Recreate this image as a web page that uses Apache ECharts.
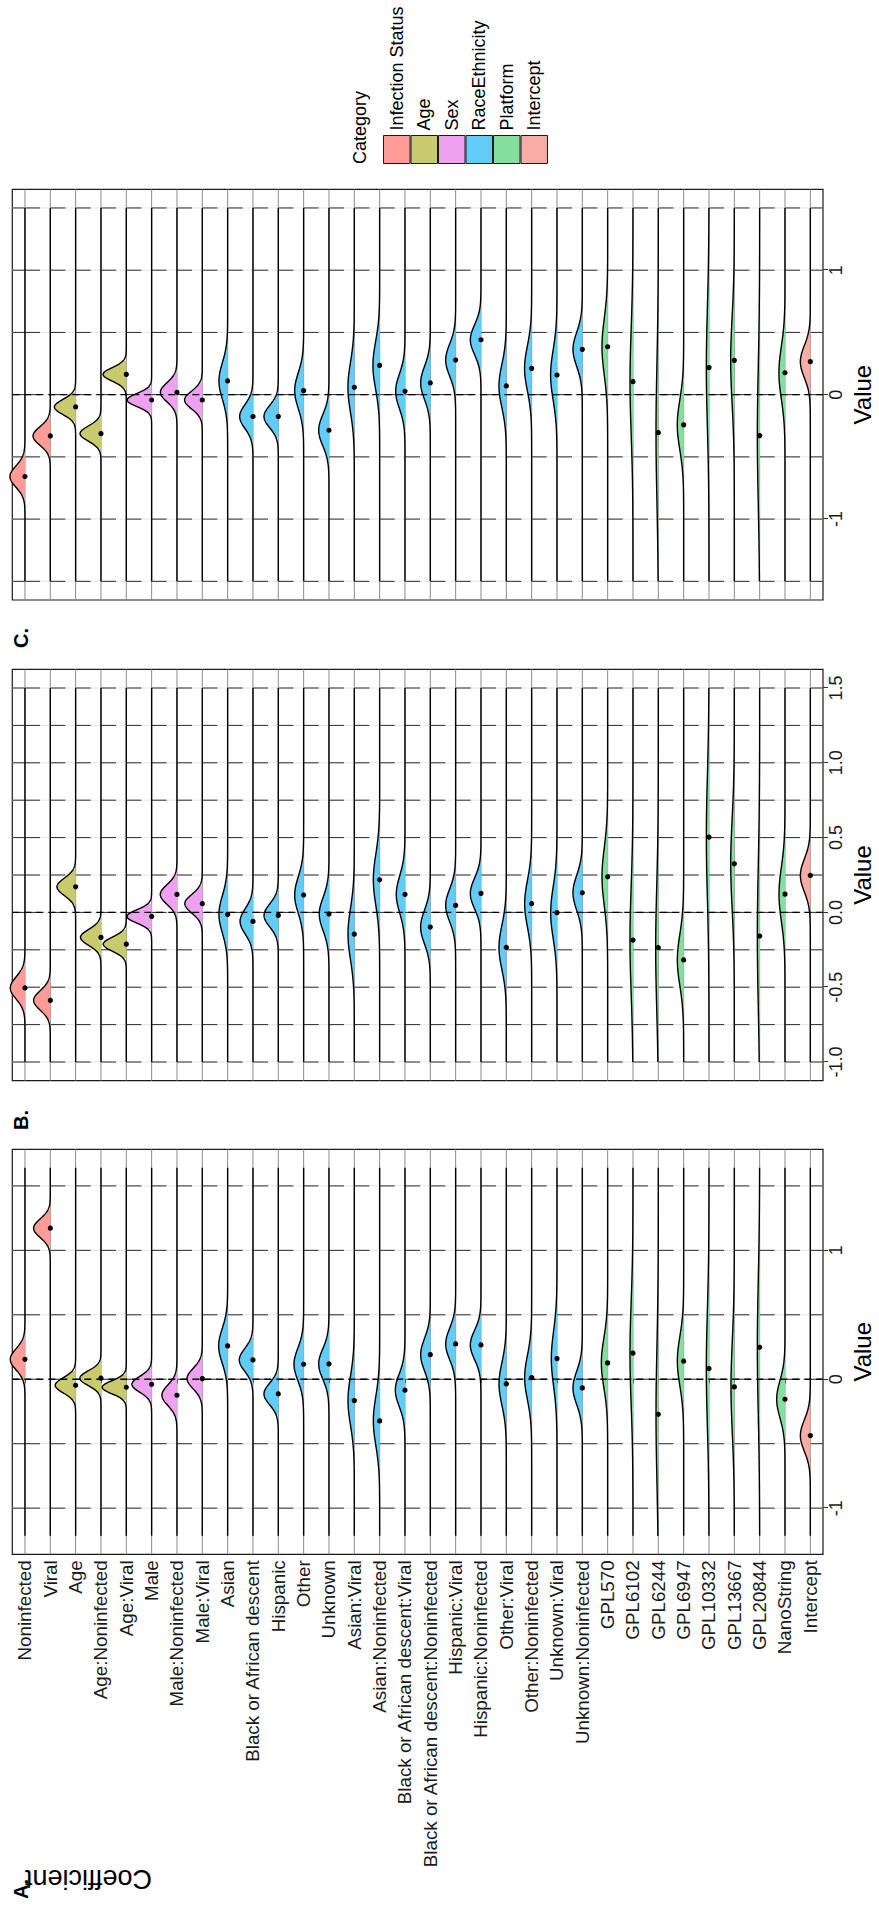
<!DOCTYPE html>
<html><head><meta charset="utf-8">
<script src="https://cdn.jsdelivr.net/npm/echarts@6/dist/echarts.min.js"></script>
<style>
html,body{margin:0;padding:0;width:879px;height:1908px;overflow:hidden;background:#fff;}
#wrap{position:absolute;left:0;top:0;width:1908px;height:879px;transform-origin:0 0;transform:translateY(1908px) rotate(-90deg);}
#chart{width:1908px;height:879px;}
</style></head><body><div id="wrap"><div id="chart"></div></div>
<script>
const coefficients = ['Noninfected','Viral','Age','Age:Noninfected','Age:Viral','Male','Male:Noninfected','Male:Viral','Asian','Black or African descent','Hispanic','Other','Unknown','Asian:Viral','Asian:Noninfected','Black or African descent:Viral','Black or African descent:Noninfected','Hispanic:Viral','Hispanic:Noninfected','Other:Viral','Other:Noninfected','Unknown:Viral','Unknown:Noninfected','GPL570','GPL6102','GPL6244','GPL6947','GPL10332','GPL13667','GPL20844','NanoString','Intercept'];
const groups = ['Infection Status','Age','Sex','RaceEthnicity','Platform','Intercept'];
const groupColors = ['#FF9C98','#C9C96E','#EEA1F0','#62CBF6','#84DE9E','#F7ADA5'];
const coefGroup = [0,0,1,1,1,2,2,2,3,3,3,3,3,3,3,3,3,3,3,3,3,3,3,4,4,4,4,4,4,4,4,5];

// Panel A
const meanA = [0.155,1.172,-0.047,0.008,-0.062,-0.039,-0.124,0.005,0.259,0.150,-0.114,0.116,0.119,-0.166,-0.323,-0.085,0.191,0.274,0.266,-0.036,0.013,0.160,-0.067,0.127,0.202,-0.272,0.140,0.083,-0.059,0.248,-0.155,-0.437];
const sdA = [0.082,0.072,0.059,0.057,0.050,0.061,0.080,0.079,0.134,0.088,0.084,0.125,0.117,0.191,0.191,0.125,0.125,0.121,0.113,0.165,0.172,0.213,0.129,0.191,0.40,0.52,0.191,0.45,0.36,0.52,0.145,0.121];
// Panel B
const meanB = [-0.505,-0.588,0.171,-0.167,-0.212,-0.027,0.120,0.058,-0.013,-0.060,-0.020,0.116,-0.011,-0.145,0.218,0.120,-0.098,0.047,0.127,-0.234,0.058,-0.002,0.131,0.238,-0.185,-0.236,-0.318,0.503,0.325,-0.158,0.122,0.247];
const sdB = [0.074,0.065,0.058,0.053,0.047,0.044,0.065,0.062,0.125,0.084,0.076,0.121,0.112,0.172,0.172,0.125,0.112,0.109,0.102,0.148,0.155,0.172,0.116,0.192,0.36,0.41,0.172,0.41,0.30,0.47,0.181,0.109];
// Panel C
const meanC = [-0.658,-0.332,-0.099,-0.313,0.163,-0.043,0.019,-0.043,0.110,-0.176,-0.176,0.032,-0.286,0.059,0.235,0.027,0.094,0.278,0.441,0.070,0.211,0.158,0.364,0.385,0.104,-0.305,-0.243,0.217,0.275,-0.329,0.176,0.265];
const sdC = [0.085,0.074,0.060,0.061,0.055,0.052,0.077,0.072,0.147,0.096,0.089,0.142,0.124,0.20,0.19,0.137,0.132,0.128,0.12,0.174,0.18,0.20,0.137,0.225,0.43,0.55,0.20,0.48,0.35,0.55,0.21,0.128];

// value axis ranges and breaks
const axisRangeA = [-1.358, 1.784], densRangeA = [-1.215, 1.641];
const axisRangeB = [-1.125, 1.625], densRangeB = [-1.0, 1.5];
const axisRangeC = [-1.65, 1.65], densRangeC = [-1.5, 1.5];
const labelTicksA = [-1, 0, 1], gridValsA = [-1, -0.5, 0, 0.5, 1, 1.5];
const labelTicksB = [-1, -0.5, 0, 0.5, 1, 1.5], gridValsB = [-1, -0.75, -0.5, -0.25, 0, 0.25, 0.5, 0.75, 1, 1.25, 1.5];
const labelTicksC = [-1, 0, 1], gridValsC = [-1.5, -1, -0.5, 0, 0.5, 1, 1.5];
const heightScale = [3.02, 2.72, 3.20];

const FONT = 'Liberation Sans, Arial, Helvetica, sans-serif';
const panels = [
  {mean: meanA, sd: sdA, axis: axisRangeA, dens: densRangeA, ticks: labelTicksA, grid: gridValsA, left: 353.7, width: 405, dec: 0, label: 'A.', labelLeft: 9},
  {mean: meanB, sd: sdB, axis: axisRangeB, dens: densRangeB, ticks: labelTicksB, grid: gridValsB, left: 827.3, width: 411.4, dec: 1, label: 'B.', labelLeft: 778},
  {mean: meanC, sd: sdC, axis: axisRangeC, dens: densRangeC, ticks: labelTicksC, grid: gridValsC, left: 1308, width: 410.7, dec: 0, label: 'C.', labelLeft: 1260}
];

const chart = echarts.init(document.getElementById('chart'), null, {renderer: 'svg'});

const grids = [], xAxes = [], yAxes = [], series = [];
panels.forEach((p, i) => {
  grids.push({left: p.left, top: 12.3, width: p.width, height: 815.7, show: true, borderColor: '#1a1a1a', borderWidth: 1.2, backgroundColor: 'transparent'});
  xAxes.push({
    type: 'value', gridIndex: i, min: p.axis[0], max: p.axis[1],
    axisLine: {show: false}, splitLine: {show: false},
    axisTick: {show: true, customValues: p.ticks, length: 5, lineStyle: {color: '#333', width: 1}},
    axisLabel: {customValues: p.ticks, fontSize: 18, color: '#1a1a1a', margin: 4, fontFamily: FONT,
      formatter: v => Number(v).toFixed(p.dec)},
    name: 'Value', nameLocation: 'middle', nameGap: 27,
    nameTextStyle: {fontSize: 24, color: '#000', fontFamily: FONT}
  });
  yAxes.push({
    type: 'category', gridIndex: i, data: coefficients, inverse: true, boundaryGap: true,
    axisLine: {show: false}, splitLine: {show: false},
    axisTick: {show: i === 0, alignWithLabel: true, length: 4, lineStyle: {color: '#333'}},
    axisLabel: {show: i === 0, fontSize: 18.8, color: '#1a1a1a', margin: 6, fontFamily: FONT, interval: 0}
  });
  const [lo, hi] = p.dens;
  const K = heightScale[i];
  // value gridlines
  series.push({
    type: 'custom', xAxisIndex: i, yAxisIndex: i, silent: true, z: 1,
    data: p.grid.map(v => [v, 0]), encode: {x: 0, y: 1},
    renderItem: (params, api) => {
      const v = api.value(0); const cs = params.coordSys;
      const x = api.coord([v, 0])[0];
      const ch = [{type: 'line', shape: {x1: x, y1: cs.y, x2: x, y2: cs.y + cs.height}, style: {stroke: '#E6E6E6', lineWidth: 1}}];
      for (let r = 0; r < coefficients.length; r++) {
        const y = api.coord([v, r])[1];
        ch.push({type: 'line', shape: {x1: x, y1: r === 0 ? cs.y : y, x2: x, y2: Math.min(y + 15, cs.y + cs.height)}, style: {stroke: '#2a2a2a', lineWidth: 1}});
      }
      return {type: 'group', children: ch};
    }
  });
  // row gridlines
  series.push({
    type: 'custom', xAxisIndex: i, yAxisIndex: i, silent: true, z: 2,
    data: coefficients.map((c, r) => [0, r]), encode: {x: 0, y: 1},
    renderItem: (params, api) => {
      const cs = params.coordSys; const y = api.coord([0, api.value(1)])[1];
      return {type: 'line', shape: {x1: cs.x, y1: y, x2: cs.x + cs.width, y2: y}, style: {stroke: '#8a8a8a', lineWidth: 1}};
    }
  });
  // densities
  series.push({
    type: 'custom', xAxisIndex: i, yAxisIndex: i, silent: true, z: 3,
    data: coefficients.map((c, r) => [r, p.mean[r], p.sd[r], coefGroup[r]]), encode: {x: 1, y: 0},
    renderItem: (params, api) => {
      const r = api.value(0), mu = api.value(1), sd = api.value(2), g = api.value(3);
      const y0 = api.coord([mu, r])[1];
      const H = v => K * Math.exp(-0.5 * ((v - mu) / sd) * ((v - mu) / sd)) / (sd * Math.sqrt(2 * Math.PI));
      const line = []; const N = 500;
      for (let k = 0; k <= N; k++) { const v = lo + (hi - lo) * k / N; line.push([api.coord([v, r])[0], y0 - H(v)]); }
      const a = Math.max(lo, mu - 1.96 * sd), b = Math.min(hi, mu + 1.96 * sd);
      const fill = [[api.coord([a, r])[0], y0]]; const M = 120;
      for (let k = 0; k <= M; k++) { const v = a + (b - a) * k / M; fill.push([api.coord([v, r])[0], y0 - H(v)]); }
      fill.push([api.coord([b, r])[0], y0]);
      const d = api.coord([mu, r]);
      return {type: 'group', children: [
        {type: 'polygon', shape: {points: fill}, style: {fill: groupColors[g], stroke: null}},
        {type: 'polyline', shape: {points: line}, style: {stroke: '#000', lineWidth: 1.4, fill: null}},
        {type: 'circle', shape: {cx: d[0], cy: d[1], r: 2.6}, style: {fill: '#000'}}
      ]};
    }
  });
  // zero dashed line
  series.push({
    type: 'custom', xAxisIndex: i, yAxisIndex: i, silent: true, z: 4,
    data: [[0, 0]], encode: {x: 0, y: 1},
    renderItem: (params, api) => {
      const cs = params.coordSys; const x = api.coord([0, 0])[0];
      return {type: 'line', shape: {x1: x, y1: cs.y, x2: x, y2: cs.y + cs.height}, style: {stroke: '#000', lineWidth: 1.3, lineDash: [7, 5]}};
    }
  });
});
// legend series
groups.forEach((g, k) => {
  series.push({type: 'custom', name: g, xAxisIndex: 0, yAxisIndex: 0, data: [], itemStyle: {color: groupColors[k]}, renderItem: () => null});
});

const titles = panels.map(p => ({text: p.label, left: p.labelLeft, top: 11, padding: 0,
  textStyle: {fontSize: 20, fontWeight: 'bold', color: '#000', fontFamily: FONT}}));
titles.push({text: 'Category', left: 1744, top: 351, padding: 0, textStyle: {fontSize: 18, fontWeight: 'normal', color: '#000', fontFamily: FONT}});

chart.setOption({
  animation: false,
  backgroundColor: '#fff',
  title: titles,
  grid: grids, xAxis: xAxes, yAxis: yAxes, series,
  legend: {orient: 'vertical', left: 1744, top: 383, padding: 0, itemWidth: 28, itemHeight: 26.5, itemGap: 0,
    icon: 'rect', selectedMode: false, data: groups,
    itemStyle: {borderColor: '#1a1a1a', borderWidth: 1},
    textStyle: {fontSize: 18, color: '#000', fontFamily: FONT}},
  graphic: [{type: 'text', x: 16, y: 152, rotation: Math.PI / 2,
    style: {text: 'Coefficient', fontSize: 27, fontFamily: FONT, fill: '#000', align: 'left', verticalAlign: 'top'}}]
});
</script></body></html>
